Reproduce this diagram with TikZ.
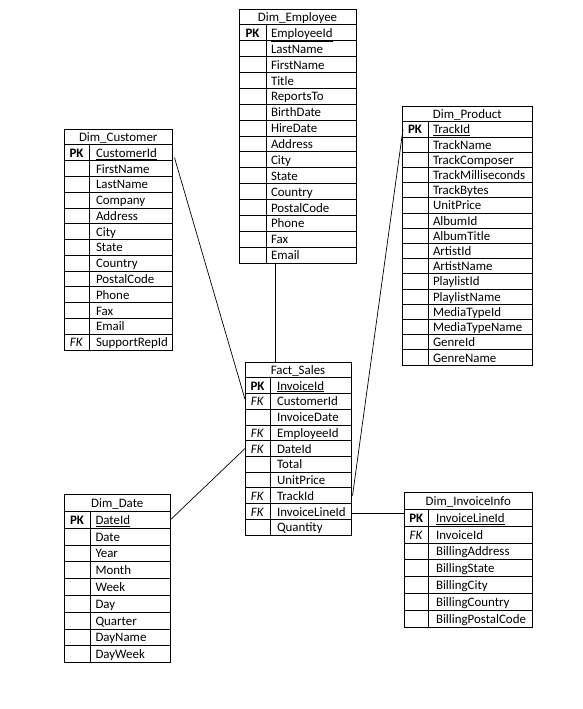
\documentclass[tikz,border=0pt]{standalone}
\usepackage{fontspec}
\setmainfont{Carlito}
\newcommand\pkk{\textbf{PK}}
\newcommand\fkk{\textit{FK}}
\tikzset{
  cell/.style={draw=black, line width=0.8pt, rectangle, inner sep=0pt, outer sep=0pt},
  txt/.style={font=\fontsize{12.9}{14}\selectfont, inner sep=0pt, outer sep=0pt, text height=9.6pt, text depth=0.4pt},
  fld/.style={txt, anchor=west},
  conn/.style={draw=black, line width=0.7pt}
}
% #1 name, #2 x0, #3 y0, #4 x1, #5 y1, #6 xdiv, #7 title, #8 rows, #9 text padding
\newcommand\dbtab[9]{%
  \foreach \kk/\ff [count=\nn] in {#8} {\xdef\dbn{\nn}}%
  \pgfmathsetmacro\rh{(#5-#3)/(\dbn+1)}%
  \node[cell, minimum width={(#4-#2)*1pt}, minimum height={\rh*1pt}, anchor=north west] (#1-t) at (#2,#3) {};
  \node[txt] (#1-tt) at (#1-t.center) {#7};
  \foreach \kk/\ff [count=\ii] in {#8} {%
    \pgfmathsetmacro\yt{#3+\rh*\ii}%
    \node[cell, minimum width={(#6-#2)*1pt}, minimum height={\rh*1pt}, anchor=north west] (#1-k\ii) at (#2,\yt) {};
    \node[cell, minimum width={(#4-#6)*1pt}, minimum height={\rh*1pt}, anchor=north west] (#1-f\ii) at (#6,\yt) {};
    \node[txt] (#1-kt\ii) at (#1-k\ii.center) {\kk};
    \node[fld] (#1-ft\ii) at ([xshift=#9pt]#1-f\ii.west) {\ff};
  }%
}
\begin{document}
\begin{tikzpicture}[x=1pt, y=-1pt]
\fill[white] (0,0) rectangle (583,709);
\useasboundingbox (0,0) rectangle (583,709);

\dbtab{emp}{239}{9}{356}{263}{266}{Dim\_Employee}{\pkk/\underline{EmployeeId}, {}/LastName, {}/FirstName, {}/Title, {}/ReportsTo, {}/BirthDate, {}/HireDate, {}/Address, {}/City, {}/State, {}/Country, {}/PostalCode, {}/Phone, {}/Fax, {}/Email}{5}

\dbtab{cust}{64}{129}{172.5}{350}{89}{Dim\_Customer}{\pkk/\underline{CustomerId}, {}/FirstName, {}/LastName, {}/Company, {}/Address, {}/City, {}/State, {}/Country, {}/PostalCode, {}/Phone, {}/Fax, {}/Email, \fkk/SupportRepId}{7}

\dbtab{prod}{402}{106.5}{532.5}{365}{428}{Dim\_Product}{\pkk/\underline{TrackId}, {}/TrackName, {}/TrackComposer, {}/TrackMilliseconds, {}/TrackBytes, {}/UnitPrice, {}/AlbumId, {}/AlbumTitle, {}/ArtistId, {}/ArtistName, {}/PlaylistId, {}/PlaylistName, {}/MediaTypeId, {}/MediaTypeName, {}/GenreId, {}/GenreName}{5}

\dbtab{fact}{245}{362}{351}{535}{270}{Fact\_Sales}{\pkk/\underline{InvoiceId}, \fkk/CustomerId, {}/InvoiceDate, \fkk/EmployeeId, \fkk/DateId, {}/Total, {}/UnitPrice, \fkk/TrackId, \fkk/InvoiceLineId, {}/Quantity}{7}

\dbtab{date}{64}{494.5}{170.5}{662.5}{90}{Dim\_Date}{\pkk/\underline{DateId}, {}/Date, {}/Year, {}/Month, {}/Week, {}/Day, {}/Quarter, {}/DayName, {}/DayWeek}{5.5}

\dbtab{inv}{404}{492.5}{532.5}{627}{428.5}{Dim\_InvoiceInfo}{\pkk/\underline{InvoiceLineId}, \fkk/InvoiceId, {}/BillingAddress, {}/BillingState, {}/BillingCity, {}/BillingCountry, {}/BillingPostalCode}{7.5}

% connectors
\draw[conn] ([shift={(2pt,-5pt)}]cust-f1.east) -- ([yshift=2pt]fact-k2.west);
\coordinate (empdrop) at ([xshift=9pt]emp-k15.south east);
\draw[conn] (empdrop) -- (empdrop |- fact-t.north);
\draw[conn] (date-f1.east) -- (fact-k5.west);
\draw[conn] ([xshift=1pt]prod-k1.west) -- ([xshift=1.5pt]fact-f8.east);
\coordinate (lineid) at ([yshift=-2pt]fact-f9.east);
\draw[conn] (lineid) -- (lineid -| inv-k1.west);
\end{tikzpicture}
\end{document}
